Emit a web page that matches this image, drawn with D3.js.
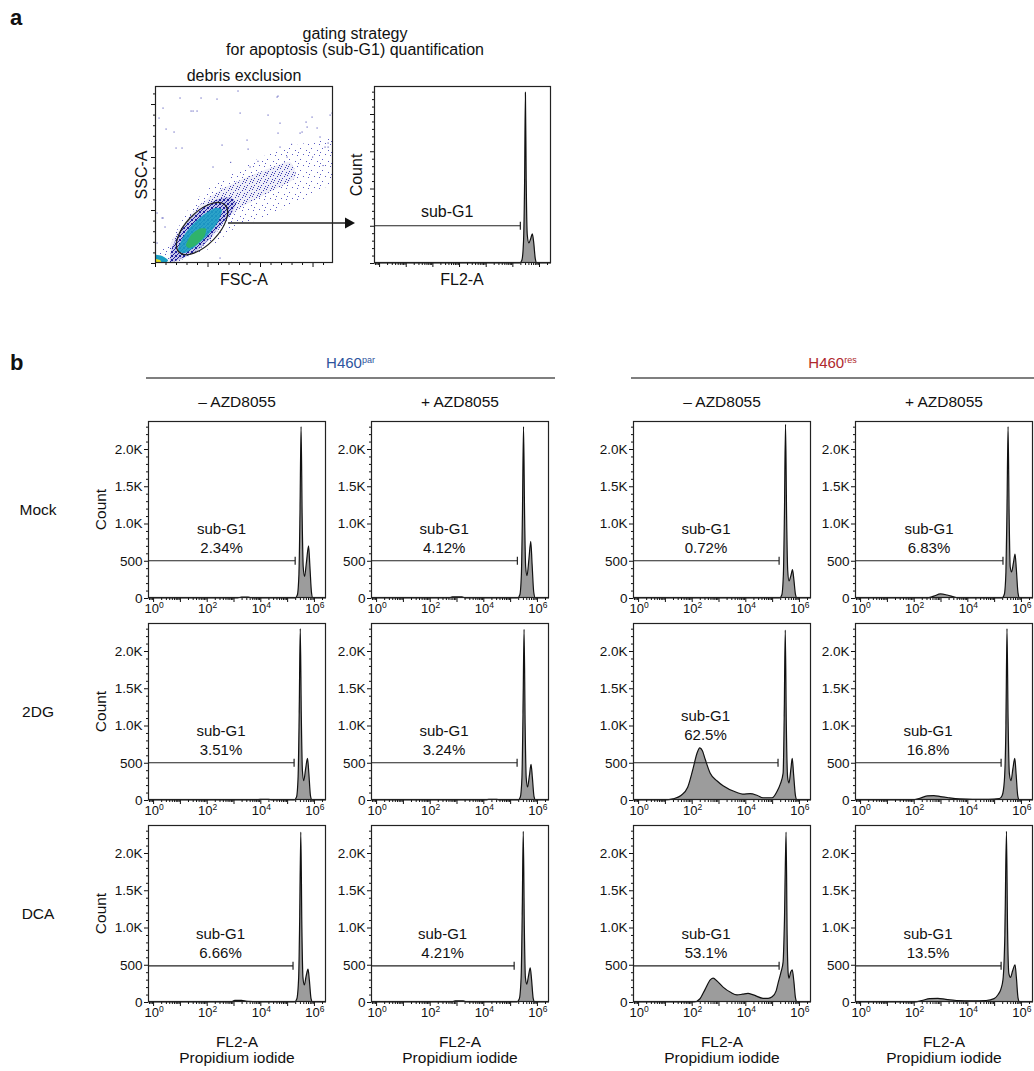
<!DOCTYPE html>
<html>
<head>
<meta charset="utf-8">
<title>sub-G1 apoptosis</title>
<script src="https://cdn.jsdelivr.net/npm/d3@7"></script>
<style>
  body { margin: 0; background: #fff; }
  text { font-family: "Liberation Sans", Arial, Helvetica, sans-serif; fill: #111; }
</style>
</head>
<body>
<div id="chart"></div>
<script>
// values: FL2-A as log10, Count per channel
var cellLines = ["H460", "H460"];
var cellLineSup = ["par", "res"];
var treatments = ["\u2013 AZD8055", "+ AZD8055"];
var conditions = ["Mock", "2DG", "DCA"];
var countTicks = [0, 500, 1000, 1500, 2000];
var countTickLabels = ["0", "500", "1.0K", "1.5K", "2.0K"];
var decades = [0, 2, 4, 6];

var subG1Pct = [
    ["2.34%", "4.12%", "0.72%", "6.83%"],
    ["3.51%", "3.24%", "62.5%", "16.8%"],
    ["6.66%", "4.21%", "53.1%", "13.5%"]
];
var gateMax = [
    [5.30, 5.27, 5.26, 5.33],
    [5.26, 5.26, 5.22, 5.26],
    [5.22, 5.15, 5.26, 5.26]
];
var gateCount = [500, 500, 485];

// gating example (panel a)
var histGating = [[-0.19,0],[5.28,0],[5.36,40],[5.42,300],[5.46,1100],[5.49,2290],[5.52,1100],[5.56,380],[5.62,270],[5.69,330],[5.75,390],[5.80,280],[5.86,60],[5.92,0],[6.45,0]];
var gatingMax = 5.30;
var gatingCount = 500;

var parMinusMock = [[-0.19,0],[3.15,0],[3.3,12],[3.55,12],[3.7,0],[5.30,0],[5.38,40],[5.44,320],[5.48,1150],[5.52,2300],[5.56,1100],[5.60,420],[5.65,290],[5.72,480],[5.80,700],[5.85,420],[5.91,70],[5.96,0],[6.45,0]];
var parPlusMock = [[-0.19,0],[2.7,0],[2.85,15],[3.2,15],[3.35,0],[5.28,0],[5.36,40],[5.42,320],[5.46,1150],[5.50,2300],[5.54,1100],[5.58,420],[5.63,300],[5.70,520],[5.77,760],[5.82,450],[5.88,80],[5.94,0],[6.45,0]];
var resMinusMock = [[-0.19,0],[5.28,0],[5.36,40],[5.42,320],[5.46,1150],[5.50,2330],[5.54,1100],[5.58,380],[5.63,230],[5.70,300],[5.76,380],[5.81,250],[5.87,50],[5.93,0],[6.45,0]];
var resPlusMock = [[-0.19,0],[2.5,0],[2.75,25],[3.0,55],[3.25,40],[3.55,10],[3.7,0],[5.30,0],[5.38,50],[5.44,350],[5.48,1200],[5.52,2300],[5.56,1100],[5.60,420],[5.65,350],[5.72,470],[5.78,590],[5.83,380],[5.89,70],[5.95,0],[6.45,0]];

var parMinus2DG = [[-0.19,0],[3.85,0],[4.0,10],[4.3,10],[4.45,0],[5.27,0],[5.35,40],[5.41,320],[5.45,1150],[5.49,2300],[5.53,1100],[5.57,400],[5.62,260],[5.69,420],[5.76,560],[5.81,360],[5.87,60],[5.93,0],[6.45,0]];
var parPlus2DG = [[-0.19,0],[4.1,0],[4.2,10],[4.5,10],[4.6,0],[5.30,0],[5.38,40],[5.44,300],[5.48,1150],[5.52,2290],[5.56,1000],[5.60,300],[5.65,175],[5.72,330],[5.78,480],[5.83,300],[5.89,50],[5.95,0],[6.45,0]];
var resMinus2DG = [[-0.19,0],[1.0,0],[1.3,15],[1.6,60],[1.85,170],[2.05,420],[2.2,630],[2.3,700],[2.4,660],[2.5,550],[2.69,360],[2.95,255],[3.17,190],[3.69,100],[3.9,80],[4.18,85],[4.45,60],[4.66,30],[5.0,30],[5.19,120],[5.30,210],[5.41,360],[5.45,1100],[5.49,2280],[5.53,1000],[5.58,300],[5.63,230],[5.70,420],[5.75,560],[5.80,350],[5.87,60],[5.93,0],[6.45,0]];
var resPlus2DG = [[-0.19,0],[1.9,0],[2.2,20],[2.5,55],[2.75,60],[3.0,45],[3.3,30],[3.7,15],[4.2,10],[4.8,10],[5.2,20],[5.30,60],[5.38,250],[5.44,1000],[5.48,2300],[5.52,1100],[5.57,350],[5.63,260],[5.70,420],[5.77,560],[5.82,350],[5.88,60],[5.94,0],[6.45,0]];

var parMinusDCA = [[-0.19,0],[2.9,0],[3.05,22],[3.3,22],[3.5,8],[3.9,5],[4.3,0],[5.28,0],[5.36,40],[5.43,330],[5.47,1150],[5.51,2280],[5.55,1000],[5.59,330],[5.64,230],[5.71,350],[5.78,440],[5.83,290],[5.89,50],[5.95,0],[6.45,0]];
var parPlusDCA = [[-0.19,0],[2.8,0],[2.95,15],[3.25,15],[3.4,0],[5.25,0],[5.34,40],[5.41,330],[5.45,1150],[5.49,2290],[5.53,1000],[5.57,330],[5.62,240],[5.69,360],[5.75,460],[5.80,300],[5.86,50],[5.92,0],[6.45,0]];
var resMinusDCA = [[-0.19,0],[2.1,0],[2.3,40],[2.5,170],[2.7,300],[2.8,320],[2.95,280],[3.17,200],[3.45,130],[3.69,95],[3.9,105],[4.1,115],[4.3,95],[4.66,50],[4.85,50],[5.0,70],[5.15,150],[5.22,250],[5.33,400],[5.41,540],[5.46,1100],[5.52,2280],[5.56,900],[5.60,380],[5.63,320],[5.69,400],[5.75,430],[5.81,280],[5.87,60],[5.93,0],[6.45,0]];
var resPlusDCA = [[-0.19,0],[2.0,0],[2.3,20],[2.6,45],[2.9,50],[3.2,35],[3.6,20],[4.2,15],[4.7,20],[5.0,45],[5.15,100],[5.25,170],[5.33,300],[5.40,900],[5.46,2290],[5.50,1000],[5.55,380],[5.61,330],[5.69,420],[5.78,500],[5.83,330],[5.89,60],[5.95,0],[6.45,0]];

var histograms = [
    [parMinusMock, parPlusMock, resMinusMock, resPlusMock],
    [parMinus2DG, parPlus2DG, resMinus2DG, resPlus2DG],
    [parMinusDCA, parPlusDCA, resMinusDCA, resPlusDCA]
];

// FSC-A / SSC-A in thousands
var scatterDots = [[43.8,155.7],[23.8,155.7],[79,162.3],[117.1,157.5],[168.6,141.5],[34.3,143.4],[40,143.4],[81,141.5],[3.8,136.8],[10.5,126.4],[18.1,123.6],[107.6,139.6],[119,132],[143.8,133],[140,123.6],[154.3,127.4],[164.8,113.2],[161.9,109.4],[117.1,122.6],[63.8,111.3],[88.6,107.5],[20,108.5],[55.2,90.6],[6.7,42.5],[9.5,34],[1.9,18.9],[59,154.7],[7.6,146.2],[36.2,143.4],[116.2,156.6],[149.5,137.7],[166.7,139.6],[144.8,128.3],[138.1,122.6],[87.6,116],[25.7,108.5],[119,109.4],[125.7,100],[157.1,118.9],[164.8,109.4],[106.7,84.9],[90.5,90.6],[1.9,47.2],[7.6,42.5],[61.9,4.7],[98,96],[130,112],[150,100],[72,95],[160,92]];
var densityOuter = [[0,4.7],[17.1,24.5],[33.3,52.8],[49.5,68.9],[68.6,81.1],[90.5,94.3],[112.4,104.7],[135.2,111.3],[157.1,116],[169.5,117.9],[169.5,78.3],[144.8,62.3],[119,50],[97.1,40.6],[78.1,34],[64.8,24.5],[49.5,12.3],[33.3,5.7],[17.1,0.9],[0,0]];
var densityMid = [[14.3,17],[28.6,38.7],[42.9,54.7],[61.9,68.9],[85.7,80.2],[109.5,89.6],[128.6,95.3],[133.3,80.2],[109.5,67],[85.7,54.7],[69.5,42.5],[54.3,23.6],[38.1,10.4],[19,0.9]];
var densityInner = [[16.2,14.2],[23.8,29.2],[35.2,43.4],[47.6,53.8],[60,60.4],[71.4,62.3],[77.1,56.6],[73.3,48.1],[61.9,34.9],[50.5,21.7],[38.1,10.4],[23.8,3.8],[14.3,0.9]];
var densityCyan = [[21.9,12.3],[26.7,24.5],[35.2,35.8],[45.7,45.3],[57.1,51.9],[63.8,50],[60,38.7],[50.5,26.4],[39,16],[28.6,9.4]];
var densityGreen = [[29.5,17],[34.3,26.4],[41.9,32.1],[48.6,32.1],[46.7,24.5],[39,17],[32.4,14.2]];
var cornerCyan = [[0,7.5],[6.7,6.6],[12.4,2.8],[9.5,0],[0,0]];
var cornerYellow = [[0,3.8],[4.8,2.8],[5.7,0],[0,0]];
var gateCentre = [44.8, 32.5];
var gateRadii = [31.4, 15.2];
var gateAngle = 46;

// ---- layout ----
var W = 1034, H = 1071;
var pw = 178, ph = 177;
var colX = [148, 371, 633, 855];
var rowY = [421, 623, 825];
var logDomain = [-0.19, 6.45];
var countDomain = [0, 2376];

var svg = d3.select("#chart")
  .append("svg")
    .attr("width", W)
    .attr("height", H)
    .style("display", "block");

svg.append("rect").attr("width", W).attr("height", H).attr("fill", "#fff");

var defs = svg.append("defs");
function speckle(id, size, dots, colour, bg) {
    var p = defs.append("pattern")
        .attr("id", id)
        .attr("patternUnits", "userSpaceOnUse")
        .attr("width", size).attr("height", size);
    if (bg) p.append("rect").attr("width", size).attr("height", size).attr("fill", bg);
    dots.forEach(function(q) {
        p.append("rect").attr("x", q[0]).attr("y", q[1]).attr("width", 1).attr("height", 1).attr("fill", colour);
    });
}
speckle("speckSparse", 11, [[0,1],[6,0],[3,5],[9,7],[1,9]], "#5a5ac2");
speckle("speckMid", 7, [[0,0],[4,1],[2,3],[6,4],[1,5],[5,6]], "#3a3ab0", "#eeeef8");
speckle("speckDense", 4, [[0,0],[2,1],[1,2],[3,3],[0,3],[3,0]], "#1f1f9e", "#c4c4e8");

function logMinor(lo, hi) {
    var t = [];
    for (var d = Math.floor(lo); d < hi; d++) {
        for (var k = 2; k <= 9; k++) {
            var v = d + Math.log10(k);
            if (v > lo && v < hi) t.push(v);
        }
    }
    return t;
}

function drawHist(g, x0, y0, data, o) {
    var x = d3.scaleLinear().domain(logDomain).range([x0, x0 + pw]);
    var y = d3.scaleLinear().domain(countDomain).range([y0 + ph, y0]);

    var area = d3.area()
        .x(function(d) { return x(d[0]); })
        .y0(y(0))
        .y1(function(d) { return y(d[1]); })
        .curve(d3.curveMonotoneX);
    var line = d3.line()
        .x(function(d) { return x(d[0]); })
        .y(function(d) { return y(d[1]); })
        .curve(d3.curveMonotoneX);

    g.append("path").datum(data).attr("d", area).attr("fill", "#9c9c9c");
    g.append("path").datum(data).attr("d", line)
        .attr("fill", "none").attr("stroke", "#111").attr("stroke-width", 1.2);

    // y ticks
    var minorY = d3.range(100, countDomain[1], 100).filter(function(v) { return v % 500 !== 0; });
    g.append("g").attr("transform", "translate(" + x0 + ",0)")
        .call(d3.axisLeft(y).tickValues(minorY).tickSize(2).tickFormat(""))
        .call(function(a) { a.select(".domain").remove(); });
    var ya = g.append("g").attr("transform", "translate(" + x0 + ",0)")
        .call(d3.axisLeft(y).tickValues(countTicks).tickSize(4)
            .tickFormat(function(d, i) { return o.tickLabels ? countTickLabels[i] : ""; }));
    ya.select(".domain").remove();
    ya.selectAll("text").attr("font-size", "13.5px").attr("fill", "#111").attr("x", -5.5)
        .style("font-family", "'Liberation Sans', Arial, sans-serif");

    // x ticks
    g.append("g").attr("transform", "translate(0," + (y0 + ph) + ")")
        .call(d3.axisBottom(x).tickValues(logMinor(logDomain[0], logDomain[1])).tickSize(2).tickFormat(""))
        .call(function(a) { a.select(".domain").remove(); });
    g.append("g").attr("transform", "translate(0," + (y0 + ph) + ")")
        .call(d3.axisBottom(x).tickValues(d3.range(0, 7)).tickSize(4).tickFormat(""))
        .call(function(a) { a.select(".domain").remove(); });
    g.selectAll(".tick line").attr("stroke", "#111");

    if (o.tickLabels) {
        decades.forEach(function(dv) {
            var t = g.append("text")
                .attr("x", x(dv) + 1)
                .attr("y", y0 + ph + 15)
                .attr("text-anchor", "middle")
                .attr("font-size", "13px");
            t.append("tspan").text("10");
            t.append("tspan").attr("dy", -5).attr("font-size", "8.5px").text(dv);
        });
    }

    // frame
    g.append("rect")
        .attr("x", x0 + 0.5).attr("y", y0 + 0.5)
        .attr("width", pw - 1).attr("height", ph - 1)
        .attr("fill", "none").attr("stroke", "#222").attr("stroke-width", 1.2);

    // sub-G1 gate
    var gx0 = x(logDomain[0]), gx1 = x(o.gateMax), gy = y(o.gateCount);
    g.append("line").attr("x1", gx0).attr("x2", gx1).attr("y1", gy).attr("y2", gy)
        .attr("stroke", "#222").attr("stroke-width", 1.2);
    g.append("line").attr("x1", gx1).attr("x2", gx1).attr("y1", gy - 4).attr("y2", gy + 4)
        .attr("stroke", "#222").attr("stroke-width", 1.2);

    var under = data.filter(function(d) { return d[0] > 1.5 && d[0] < 3.7; });
    var base = Math.max(o.gateCount, d3.max(under, function(d) { return d[1]; }) || 0);
    var lx = (gx0 + gx1) / 2;
    if (o.pct) {
        g.append("text").attr("x", lx).attr("y", y(base) - 8)
            .attr("text-anchor", "middle").attr("font-size", "15px").text(o.pct);
        g.append("text").attr("x", lx).attr("y", y(base) - 27)
            .attr("text-anchor", "middle").attr("font-size", "15px").text("sub-G1");
    } else {
        g.append("text").attr("x", lx).attr("y", y(base) - 9)
            .attr("text-anchor", "middle").attr("font-size", "16px").text("sub-G1");
    }
}

// ---- panel a ----
svg.append("text").attr("x", 10).attr("y", 25)
    .attr("font-size", "22px").attr("font-weight", "bold").text("a");
svg.append("text").attr("x", 355).attr("y", 39)
    .attr("text-anchor", "middle").attr("font-size", "16px").text("gating strategy");
svg.append("text").attr("x", 355).attr("y", 55)
    .attr("text-anchor", "middle").attr("font-size", "16px").text("for apoptosis (sub-G1) quantification");

var sc = svg.append("g");
var fx = d3.scaleLinear().domain([0, 169.5]).range([155, 333]);
var fy = d3.scaleLinear().domain([0, 167]).range([263, 86]);
var blob = d3.line()
    .x(function(d) { return fx(d[0]); })
    .y(function(d) { return fy(d[1]); })
    .curve(d3.curveCardinalClosed.tension(0.3));

sc.append("clipPath").attr("id", "scClip")
  .append("rect").attr("x", 155).attr("y", 86).attr("width", 178).attr("height", 177);
var cl = sc.append("g").attr("clip-path", "url(#scClip)");
cl.append("path").attr("d", blob(densityOuter)).attr("fill", "url(#speckSparse)");
cl.append("path").attr("d", blob(densityMid)).attr("fill", "url(#speckMid)");
cl.append("path").attr("d", blob(densityInner)).attr("fill", "url(#speckDense)");
cl.append("path").attr("d", blob(densityCyan)).attr("fill", "#1b9fc4").attr("opacity", 0.9);
cl.append("path").attr("d", blob(densityGreen)).attr("fill", "#2fb36a");
cl.append("path").attr("d", blob(cornerCyan)).attr("fill", "#1b9fc4");
cl.append("path").attr("d", blob(cornerYellow)).attr("fill", "#e3df2a");
cl.selectAll("rect.dot")
    .data(scatterDots)
    .enter()
    .append("rect")
        .attr("class", "dot")
        .attr("x", function(d) { return fx(d[0]) - 0.5; })
        .attr("y", function(d) { return fy(d[1]) - 0.5; })
        .attr("width", 1.1).attr("height", 1.1)
        .attr("fill", "#5050b8");

// gate ellipse
sc.append("ellipse")
    .attr("transform", "translate(" + fx(gateCentre[0]) + "," + fy(gateCentre[1]) + ") rotate(" + (-gateAngle) + ")")
    .attr("rx", fx(gateRadii[0]) - fx(0))
    .attr("ry", fx(gateRadii[1]) - fx(0))
    .attr("fill", "none").attr("stroke", "#222").attr("stroke-width", 1.2);

sc.append("g").attr("transform", "translate(155,0)")
    .call(d3.axisLeft(fy).tickValues(d3.range(10, 167, 10).filter(function(v) { return v % 50; })).tickSize(2).tickFormat(""))
    .call(function(a) { a.select(".domain").remove(); });
sc.append("g").attr("transform", "translate(155,0)")
    .call(d3.axisLeft(fy).tickValues([0, 50, 100, 150]).tickSize(4).tickFormat(""))
    .call(function(a) { a.select(".domain").remove(); });
sc.append("g").attr("transform", "translate(0,263)")
    .call(d3.axisBottom(fx).tickValues(d3.range(10, 169, 10).filter(function(v) { return v % 50; })).tickSize(2).tickFormat(""))
    .call(function(a) { a.select(".domain").remove(); });
sc.append("g").attr("transform", "translate(0,263)")
    .call(d3.axisBottom(fx).tickValues([0, 50, 100, 150]).tickSize(4).tickFormat(""))
    .call(function(a) { a.select(".domain").remove(); });
sc.selectAll(".tick line").attr("stroke", "#111");
sc.append("rect").attr("x", 155.5).attr("y", 86.5).attr("width", 177).attr("height", 176)
    .attr("fill", "none").attr("stroke", "#222").attr("stroke-width", 1.2);

svg.append("text").attr("x", 244).attr("y", 81)
    .attr("text-anchor", "middle").attr("font-size", "16px").text("debris exclusion");
svg.append("text").attr("x", 244).attr("y", 285)
    .attr("text-anchor", "middle").attr("font-size", "16px").text("FSC-A");
svg.append("text").attr("transform", "translate(147,175) rotate(-90)")
    .attr("text-anchor", "middle").attr("font-size", "16px").text("SSC-A");

// arrow to histogram
var ax0 = fx(gateCentre[0]) + 26, ay = 223;
svg.append("line").attr("x1", ax0).attr("x2", 347).attr("y1", ay).attr("y2", ay)
    .attr("stroke", "#222").attr("stroke-width", 1.3);
svg.append("path").attr("d", "M345," + (ay - 5.5) + "L355," + ay + "L345," + (ay + 5.5) + "Z").attr("fill", "#111");

var ga = svg.append("g");
var saveW = pw;
pw = 177;
drawHist(ga, 374, 86, histGating, { tickLabels: false, gateMax: gatingMax, gateCount: gatingCount });
pw = saveW;
svg.append("text").attr("transform", "translate(362,175) rotate(-90)")
    .attr("text-anchor", "middle").attr("font-size", "16px").text("Count");
svg.append("text").attr("x", 462).attr("y", 285)
    .attr("text-anchor", "middle").attr("font-size", "16px").text("FL2-A");

// ---- panel b ----
svg.append("text").attr("x", 10).attr("y", 370)
    .attr("font-size", "22px").attr("font-weight", "bold").text("b");

var lineColors = ["#2e549e", "#b0282c"];
[0, 1].forEach(function(k) {
    var left = colX[2 * k] - 2, right = Math.min(colX[2 * k + 1] + pw + 6, W);
    svg.append("line").attr("x1", left).attr("x2", right).attr("y1", 378).attr("y2", 378)
        .attr("stroke", "#555").attr("stroke-width", 1.6);
    var t = svg.append("text").attr("x", (left + right) / 2).attr("y", 368)
        .attr("text-anchor", "middle").attr("font-size", "15px");
    t.append("tspan").attr("fill", lineColors[k]).text(cellLines[k]);
    t.append("tspan").attr("fill", lineColors[k]).attr("dy", -5).attr("font-size", "9px").text(cellLineSup[k]);
});

colX.forEach(function(cx, c) {
    svg.append("text").attr("x", cx + pw / 2).attr("y", 407)
        .attr("text-anchor", "middle").attr("font-size", "15.5px").text(treatments[c % 2]);
    svg.append("text").attr("x", cx + pw / 2).attr("y", 1047)
        .attr("text-anchor", "middle").attr("font-size", "15.5px").text("FL2-A");
    svg.append("text").attr("x", cx + pw / 2).attr("y", 1063)
        .attr("text-anchor", "middle").attr("font-size", "15.5px").text("Propidium iodide");
});

rowY.forEach(function(ry, r) {
    svg.append("text").attr("x", 38).attr("y", ry + ph / 2 + 5)
        .attr("text-anchor", "middle").attr("font-size", "15.5px").text(conditions[r]);
    svg.append("text").attr("transform", "translate(106," + (ry + ph / 2) + ") rotate(-90)")
        .attr("text-anchor", "middle").attr("font-size", "15.5px").text("Count");
    colX.forEach(function(cx, c) {
        drawHist(svg.append("g"), cx, ry, histograms[r][c], {
            tickLabels: true,
            gateMax: gateMax[r][c],
            gateCount: gateCount[r],
            pct: subG1Pct[r][c]
        });
    });
});
</script>
</body>
</html>
